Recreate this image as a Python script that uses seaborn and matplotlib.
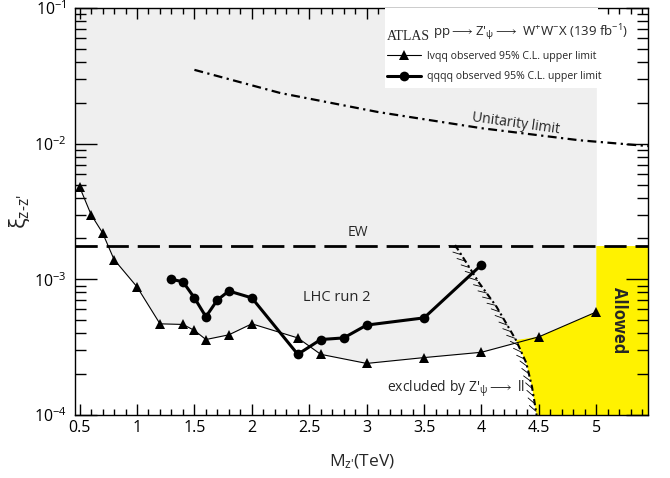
import numpy as np
import pandas as pd
import seaborn as sns
import matplotlib
matplotlib.use("Agg")
import matplotlib.pyplot as plt
from matplotlib import patheffects
from matplotlib.ticker import MultipleLocator, FixedLocator, FuncFormatter, LogLocator, NullFormatter

# ---------------- data ----------------
lvqq_mass = [0.5, 0.6, 0.7, 0.8, 1.0, 1.2, 1.4, 1.5, 1.6, 1.8, 2.0, 2.4, 2.6, 3.0, 3.5, 4.0, 4.5, 5.0]
lvqq_xi = [4.8e-3, 3.0e-3, 2.2e-3, 1.4e-3, 8.8e-4, 4.7e-4, 4.65e-4, 4.2e-4, 3.6e-4, 3.9e-4,
           4.7e-4, 3.7e-4, 2.8e-4, 2.4e-4, 2.65e-4, 2.9e-4, 3.77e-4, 5.75e-4]

qqqq_mass = [1.3, 1.4, 1.5, 1.6, 1.7, 1.8, 2.0, 2.4, 2.6, 2.8, 3.0, 3.5, 4.0]
qqqq_xi = [1.0e-3, 9.6e-4, 7.3e-4, 5.3e-4, 7.05e-4, 8.2e-4, 7.3e-4, 2.8e-4, 3.6e-4, 3.7e-4,
           4.6e-4, 5.2e-4, 1.28e-3]

unit_mass = [1.5, 2.25, 3.1, 4.0, 4.85, 5.45]
unit_xi = [3.5e-2, 2.36e-2, 1.71e-2, 1.30e-2, 1.06e-2, 9.6e-3]

zll_mass = [3.77, 3.87, 3.98, 4.13, 4.30, 4.39, 4.44, 4.48]
zll_xi = [1.79e-3, 1.32e-3, 9.4e-4, 6.3e-4, 3.57e-4, 2.42e-4, 1.61e-4, 1.0e-4]

ew_xi = 1.76e-3

x_ticks = [0.5, 1, 1.5, 2, 2.5, 3, 3.5, 4, 4.5, 5]
x_lim = (0.46, 5.45)
y_lim = (1e-4, 1e-1)

lvqq_label = "lvqq observed 95% C.L. upper limit"
qqqq_label = "qqqq observed 95% C.L. upper limit"

# ---------------- style ----------------
sns.set_theme(style="ticks")
plt.rcParams["font.family"] = ["Open Sans", "DejaVu Sans"]
plt.rcParams["mathtext.fontset"] = "custom"
plt.rcParams["mathtext.rm"] = "Open Sans"
plt.rcParams["mathtext.it"] = "Open Sans:italic"
plt.rcParams["mathtext.default"] = "regular"

fig = plt.figure(figsize=(6.7, 4.78), dpi=100)
ax = fig.add_axes([75 / 670, 1 - 415 / 478, 573 / 670, 407 / 478])
ax.set_yscale("log")
ax.set_xlim(*x_lim)
ax.set_ylim(*y_lim)

gray = "#efefef"
yellow = "#fff200"

# gray excluded region above the lvqq curve
gx = [x_lim[0]] + lvqq_mass
gy = [lvqq_xi[0]] + lvqq_xi
ax.fill_between(gx, gy, y_lim[1], color=gray, lw=0, zorder=0)

# yellow allowed region
zm = np.array(zll_mass)
zx = np.array(zll_xi)
sel = zm >= 4.30
lm = np.array(lvqq_mass)
lx = np.array(lvqq_xi)
lsel = lm >= 4.5
poly_x = list(zm[sel]) + [x_lim[1], x_lim[1], lvqq_mass[-1]] + list(lm[lsel][::-1])
poly_y = list(zx[sel]) + [y_lim[0], ew_xi, ew_xi] + list(lx[lsel][::-1])
ax.fill(poly_x, poly_y, color=yellow, lw=0, zorder=0.5)

# data series
df_l = pd.DataFrame({"mass": lvqq_mass, "xi": lvqq_xi})
df_q = pd.DataFrame({"mass": qqqq_mass, "xi": qqqq_xi})
sns.lineplot(data=df_l, x="mass", y="xi", ax=ax, color="black", lw=0.8, marker="^",
             markersize=6.5, markeredgewidth=0, label=lvqq_label, zorder=4)
sns.lineplot(data=df_q, x="mass", y="xi", ax=ax, color="black", lw=2.2, marker="o",
             markersize=7, markeredgewidth=0, label=qqqq_label, zorder=5)

# EW line
ax.axhline(ew_xi, color="black", lw=2, ls=(0, (8, 3.2)), zorder=3)

# unitarity limit
ax.plot(unit_mass, unit_xi, color="black", lw=1.6, ls=(0, (4, 2, 1, 2)), zorder=3)

# Z' -> ll bound with hatches on the excluded (left) side
ax.plot(zll_mass, zll_xi, color="black", lw=1.5, ls=(0, (3, 1.5, 1, 1.5)), zorder=3)
ax.plot(zll_mass, zll_xi, color="black", lw=0.6, zorder=3,
        path_effects=[patheffects.TickedStroke(spacing=5.5, angle=-140, length=1.15)])

# texts
ax.text(2.92, 1.95e-3, "EW", fontsize=10, ha="center", va="bottom")
ax.text(2.74, 7.4e-4, "LHC run 2", fontsize=10.5, ha="center", va="center")
ax.text(3.18, 1.55e-4, r"excluded by Z$'_{\psi}$$\longrightarrow$ ll", fontsize=10,
        ha="left", va="center")
ax.text(4.3, 1.40e-2, "Unitarity limit", fontsize=10, ha="center", va="center", rotation=-8)
ax.text(5.2, 5.0e-4, "Allowed", fontsize=12, fontweight="bold", ha="center", va="center",
        rotation=-90)

# legend / title box
ax.add_patch(plt.Rectangle((0.541, 0.803), 0.372, 0.197, transform=ax.transAxes,
                           facecolor="white", edgecolor="none", zorder=6))
t1 = ax.text(0.545, 0.93, "ATLAS", transform=ax.transAxes, fontsize=10,
             family=["Liberation Serif", "DejaVu Serif"], ha="left", va="center", zorder=7)
ax.annotate(r" pp$\longrightarrow$Z$'_{\psi}$$\longrightarrow$ W$^{+}$W$^{-}$X (139 fb$^{-1}$)",
            xy=(1, 0), xycoords=t1, ha="left", va="bottom", fontsize=9.5, zorder=7)
leg = ax.legend(loc="upper left", bbox_to_anchor=(0.537, 0.905), frameon=False,
                fontsize=7.6, handlelength=3.2, handletextpad=0.6, labelspacing=0.9,
                borderaxespad=0)
leg.set_zorder(8)

# axes styling
ax.set_xlabel(r"M$_{z\text{'}}$(TeV)", fontsize=12.5, labelpad=12)
ax.set_ylabel(r"ξ$_{z\text{-}z\text{'}}$", fontsize=16, labelpad=1)
ax.xaxis.set_major_locator(FixedLocator(x_ticks))
ax.xaxis.set_minor_locator(MultipleLocator(0.1))
ax.xaxis.set_major_formatter(FuncFormatter(lambda v, p: f"{v:g}"))
ax.yaxis.set_major_locator(LogLocator(base=10, numticks=10))
ax.yaxis.set_minor_locator(LogLocator(base=10, subs=np.arange(2, 10), numticks=10))
ax.yaxis.set_minor_formatter(NullFormatter())
ax.tick_params(which="both", direction="in", top=True, right=True, colors="black",
               labelsize=11.5, width=1)
ax.tick_params(axis="x", which="major", length=8)
ax.tick_params(axis="x", which="minor", length=4)
ax.tick_params(axis="y", which="major", length=16, pad=6)
ax.tick_params(axis="y", which="minor", length=8)
for s in ax.spines.values():
    s.set_color("black")
    s.set_linewidth(1)
ax.set_facecolor("white")

fig.savefig("out.png", dpi=100)
